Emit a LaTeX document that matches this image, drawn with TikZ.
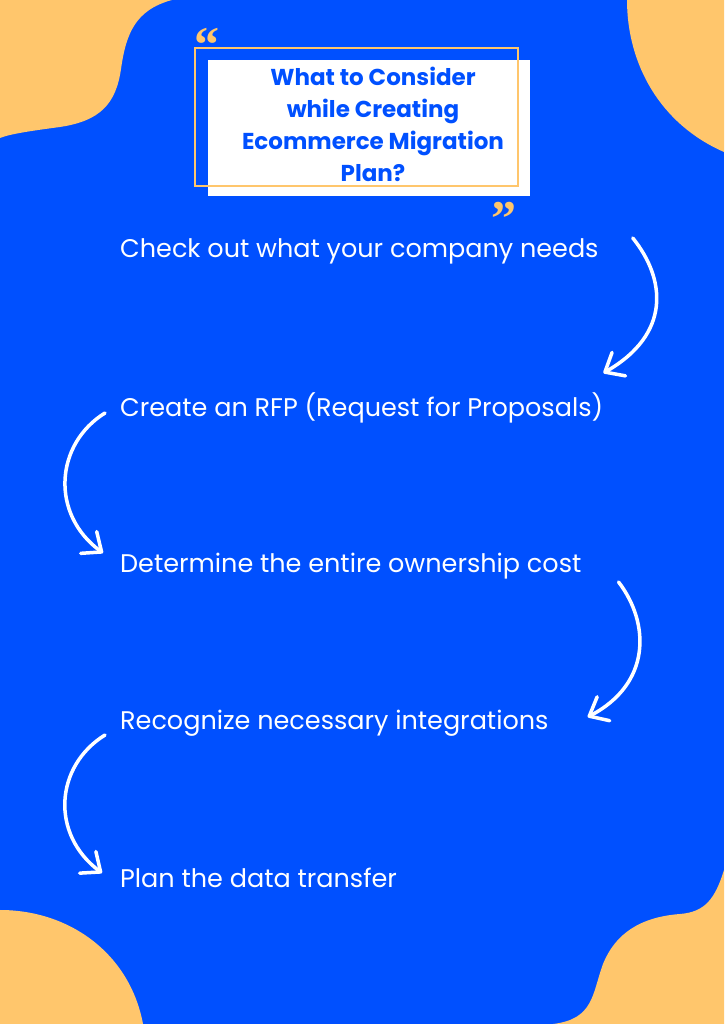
\documentclass[tikz,border=0pt]{standalone}
\usepackage{fontspec}
\setmainfont{Poppins}
\newfontfamily\quotefont{Liberation Serif}
\usetikzlibrary{arrows.meta, calc, positioning}
\definecolor{bgblue}{RGB}{0,80,255}
\definecolor{blobor}{RGB}{255,198,108}
\tikzset{
    blob/.style = {fill=blobor, draw=none},
    steptext/.style = {anchor=west, inner sep=0pt, text=white, font=\fontsize{25.5}{30}\selectfont},
    flowarrow/.style = {draw=white, line width=3.5pt, line cap=round,
        -{Straight Barb[length=16pt,width=27pt,round]}},
    quotemark/.style = {text=blobor, inner sep=0pt, font=\fontsize{50}{50}\quotefont\bfseries\selectfont},
}

\begin{document}
\begin{tikzpicture}[x=1pt,y=1pt]

\useasboundingbox (0,0) rectangle (724,1024);
\fill[bgblue] (0,0) rectangle (724,1024);

\fill[blob] (0,1024) -- (172,1024) .. controls (135,1014) and (126,990) .. (121,955) .. controls (116,920) and (100,903) .. (60,897) .. controls (30,893) and (10,890) .. (0,886) -- cycle;
\fill[blob] (627,1024) .. controls (627,960) and (660,900) .. (724,872) -- (724,1024) -- cycle;
\fill[blob] (0,114) .. controls (70,114) and (130,70) .. (143,0) -- (0,0) -- cycle;
\fill[blob] (724,154) .. controls (715,125) and (705,112) .. (680,110) .. controls (640,107) and (615,90) .. (603,60) .. controls (592,30) and (594,5) .. (553,0) -- (724,0) -- cycle;

\begin{scope}
\fill[white] (208,828) rectangle (530,964);
\draw[blobor, line width=2.5pt] (195,838) rectangle (518,976);
\node[text=bgblue, align=center, font=\fontsize{23}{32}\bfseries\selectfont] (title) at (373,900)
    {What to Consider\\while Creating\\Ecommerce Migration\\Plan?};
\node[quotemark] (qopen) at (207,979) {“};
\node[quotemark] (qclose) at (504,805) {”};
\end{scope}

\node[steptext] (step1) at (120,773) {Check out what your company needs};
\node[steptext] (step2) at (120,616) {Create an RFP (Request for Proposals)};
\node[steptext] (step3) at (120,458) {Determine the entire ownership cost};
\node[steptext] (step4) at (120,301) {Recognize necessary integrations};
\node[steptext] (step5) at (120,146) {Plan the data transfer};

\coordinate (a1s) at ([shift={(34,13)}]step1.east);
\coordinate (a1e) at ([shift={(0,35)}]step2.east);
\coordinate (a2s) at ([shift={(-15,-5)}]step2.west);
\coordinate (a2e) at ([shift={(-17,13)}]step3.west);
\coordinate (a3s) at ([shift={(37,-16)}]step3.east);
\coordinate (a3e) at ([shift={(39,6)}]step4.east);
\coordinate (a4s) at ([shift={(-15,-12)}]step4.west);
\coordinate (a4e) at ([shift={(-18,5)}]step5.west);

\draw[flowarrow] (a1s) .. controls ($(a1s)+(33,-41)$) and ($(a1e)+(68,39)$) .. (a1e);
\draw[flowarrow] (a2s) .. controls ($(a2s)+(-50,-31)$) and ($(a2e)+(-53,39)$) .. (a2e);
\draw[flowarrow] (a3s) .. controls ($(a3s)+(32,-42)$) and ($(a3e)+(63,33)$) .. (a3e);
\draw[flowarrow] (a4s) .. controls ($(a4s)+(-50,-31)$) and ($(a4e)+(-52,39)$) .. (a4e);

\end{tikzpicture}
\end{document}
